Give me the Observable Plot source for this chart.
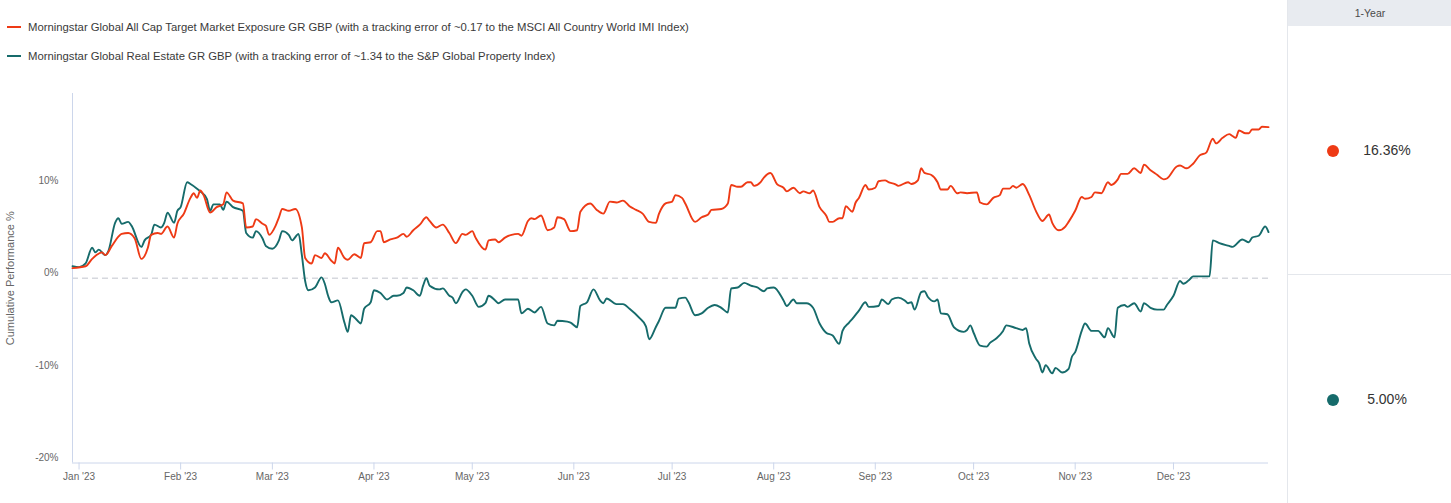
<!DOCTYPE html>
<html><head><meta charset="utf-8">
<script src="https://cdn.jsdelivr.net/npm/d3@7"></script>
<script src="https://cdn.jsdelivr.net/npm/@observablehq/plot@0.6"></script>
<style>
body{margin:0;background:#fff;font-family:Arial,"Liberation Sans",sans-serif;}
#wrap{position:relative;width:1451px;height:503px;overflow:hidden;background:#fff;}
#chart{position:absolute;left:0;top:0;}
.legend{position:absolute;left:7px;height:14px;font-size:11.3px;color:#3a3a3a;display:flex;align-items:center;white-space:nowrap;}
.legend .sw{width:14px;height:2px;margin-right:7px;}
#panel{position:absolute;left:1287px;top:0;width:164px;height:503px;border-left:1px solid #e4e7ec;}
#panel .head{height:26px;background:#e8ebf0;color:#4a4a4a;font-size:10.5px;display:flex;align-items:center;justify-content:center;}
#panel .row{position:absolute;left:0;width:164px;}
#panel .dot{position:absolute;width:12px;height:12px;border-radius:50%;left:39px;}
#panel .val{position:absolute;left:60px;width:78px;text-align:center;font-size:14px;color:#333;}
#panel .sep{position:absolute;left:0;top:274px;width:164px;height:1px;background:#e4e7ec;}
</style></head>
<body>
<div id="wrap">
  <div id="chart"></div>
  <div class="legend" style="top:20px"><span class="sw" style="background:#ee3a15"></span><span id="lg1"></span></div>
  <div class="legend" style="top:49px"><span class="sw" style="background:#166b6b"></span><span id="lg2"></span></div>
  <div id="panel">
    <div class="head" id="phead"></div>
    <div class="sep"></div>
    <div class="dot" style="top:145px;background:#ee3a15"></div>
    <div class="val" id="v1" style="top:142px"></div>
    <div class="dot" style="top:394px;background:#166b6b"></div>
    <div class="val" id="v2" style="top:391px"></div>
  </div>
</div>
<script>
const seriesNames = [
  "Morningstar Global All Cap Target Market Exposure GR GBP (with a tracking error of ~0.17 to the MSCI All Country World IMI Index)",
  "Morningstar Global Real Estate GR GBP (with a tracking error of ~1.34 to the S&P Global Property Index)"
];
const seriesColors = ["#ee3a15", "#166b6b"];
const periodLabel = "1-Year";
const periodReturns = ["16.36%", "5.00%"];
const yTicks = [-20, -10, 0, 10];
const yTitle = "Cumulative Performance %";

const redDates = ["2022-12-30","2023-01-03","2023-01-05","2023-01-08","2023-01-09","2023-01-11","2023-01-13","2023-01-14","2023-01-16","2023-01-18","2023-01-20","2023-01-22","2023-01-23","2023-01-25","2023-01-26","2023-01-28","2023-01-30","2023-01-31",
"2023-02-02","2023-02-04","2023-02-05","2023-02-06","2023-02-07","2023-02-08","2023-02-10","2023-02-12","2023-02-14","2023-02-15","2023-02-17","2023-02-20","2023-02-21","2023-02-23","2023-02-24","2023-02-26","2023-02-27","2023-02-28",
"2023-03-02","2023-03-03","2023-03-04","2023-03-06","2023-03-08","2023-03-10","2023-03-11","2023-03-13","2023-03-14","2023-03-16","2023-03-17","2023-03-19","2023-03-20","2023-03-21","2023-03-23","2023-03-24","2023-03-26","2023-03-28","2023-03-29","2023-03-31",
"2023-04-02","2023-04-03","2023-04-04","2023-04-06","2023-04-08","2023-04-10","2023-04-11","2023-04-13","2023-04-15","2023-04-17","2023-04-18","2023-04-20","2023-04-22","2023-04-24","2023-04-26","2023-04-28","2023-04-29",
"2023-05-01","2023-05-02","2023-05-05","2023-05-06","2023-05-08","2023-05-09","2023-05-11","2023-05-13","2023-05-15","2023-05-16","2023-05-18","2023-05-19","2023-05-20","2023-05-22","2023-05-24","2023-05-26","2023-05-27","2023-05-29","2023-05-31",
"2023-06-02","2023-06-03","2023-06-06","2023-06-08","2023-06-10","2023-06-12","2023-06-14","2023-06-16","2023-06-18","2023-06-20","2023-06-22","2023-06-24","2023-06-26","2023-06-27","2023-06-29",
"2023-07-01","2023-07-02","2023-07-04","2023-07-05","2023-07-08","2023-07-10","2023-07-12","2023-07-13","2023-07-16","2023-07-18","2023-07-19","2023-07-21","2023-07-22","2023-07-24","2023-07-25","2023-07-26","2023-07-28","2023-07-29","2023-07-31",
"2023-08-02","2023-08-04","2023-08-05","2023-08-07","2023-08-09","2023-08-10","2023-08-12","2023-08-13","2023-08-15","2023-08-17","2023-08-18","2023-08-19","2023-08-21","2023-08-22","2023-08-23","2023-08-25","2023-08-26","2023-08-27","2023-08-29","2023-08-30",
"2023-09-01","2023-09-02","2023-09-04","2023-09-05","2023-09-07","2023-09-08","2023-09-11","2023-09-12","2023-09-14","2023-09-15","2023-09-16","2023-09-18","2023-09-20","2023-09-21","2023-09-23","2023-09-24","2023-09-26","2023-09-27","2023-09-29",
"2023-10-02","2023-10-03","2023-10-05","2023-10-07","2023-10-09","2023-10-10","2023-10-12","2023-10-13","2023-10-14","2023-10-16","2023-10-18","2023-10-20","2023-10-22","2023-10-24","2023-10-25","2023-10-27","2023-10-29","2023-10-30",
"2023-11-01","2023-11-03","2023-11-04","2023-11-06","2023-11-07","2023-11-09","2023-11-11","2023-11-12","2023-11-14","2023-11-15","2023-11-17","2023-11-19","2023-11-21","2023-11-22","2023-11-24","2023-11-26","2023-11-28","2023-11-29",
"2023-12-02","2023-12-03","2023-12-05","2023-12-07","2023-12-09","2023-12-11","2023-12-13","2023-12-14","2023-12-16","2023-12-18","2023-12-19","2023-12-20","2023-12-21","2023-12-23","2023-12-24","2023-12-25","2023-12-27","2023-12-28","2023-12-30"];
const redValues = [1.1,1.3,2.1,2.8,2.5,3.5,4.5,4.8,4.9,4.3,2.1,3.3,4.7,4.9,4.8,5.6,4.4,5.9,
7.0,8.7,9.2,8.7,9.5,9.0,7.1,7.7,8.0,9.3,8.4,8.1,5.5,5.6,6.4,5.9,5.7,4.7,
5.7,6.6,7.5,7.3,7.5,5.5,2.2,1.6,2.5,2.2,2.7,1.9,1.6,3.3,2.2,2.0,2.6,2.2,3.8,3.9,
5.1,5.1,3.9,4.2,4.4,4.8,4.5,5.2,5.8,6.6,6.2,5.5,5.8,4.9,3.8,4.8,4.7,
5.1,4.4,3.1,4.1,4.2,3.9,4.4,4.7,4.8,4.6,6.2,6.5,6.4,6.8,5.2,5.5,6.6,6.4,5.1,
5.2,7.2,8.1,7.4,7.0,8.3,8.2,8.4,7.8,7.4,7.0,6.1,6.0,7.0,8.1,
8.3,9.0,8.7,8.1,6.1,6.6,6.9,7.4,7.5,8.1,10.1,9.9,9.9,10.4,10.4,10.0,10.4,10.9,11.4,
10.2,9.8,9.4,9.8,9.2,9.4,9.2,9.5,7.7,6.8,6.1,6.1,6.5,6.5,7.8,7.2,8.2,8.7,10.1,9.6,
9.8,10.5,10.6,10.4,10.2,10.0,10.4,10.2,10.6,11.9,11.4,11.2,10.4,9.6,9.6,10.0,9.2,9.3,9.2,
9.3,8.2,8.0,8.7,9.0,9.7,9.7,10.0,9.8,10.2,9.0,7.3,6.2,6.9,6.0,5.2,5.6,6.1,
7.3,8.8,8.6,8.8,9.3,9.2,10.4,10.1,10.7,11.3,11.3,11.9,11.4,12.3,11.7,11.2,10.7,10.8,
12.1,12.2,11.9,12.4,13.3,13.6,15.1,14.6,15.2,15.6,15.4,15.2,16.0,15.7,15.7,16.1,16.1,16.4,16.36];

const tealDates = ["2022-12-30","2023-01-01","2023-01-03","2023-01-05","2023-01-06","2023-01-07","2023-01-09","2023-01-10","2023-01-12","2023-01-13","2023-01-14","2023-01-16","2023-01-17","2023-01-20","2023-01-21","2023-01-23","2023-01-24","2023-01-26","2023-01-27","2023-01-28","2023-01-30","2023-01-31",
"2023-02-01","2023-02-03","2023-02-04","2023-02-06","2023-02-07","2023-02-09","2023-02-10","2023-02-11","2023-02-13","2023-02-14","2023-02-15","2023-02-17","2023-02-20","2023-02-21","2023-02-23","2023-02-24","2023-02-26","2023-02-27",
"2023-03-01","2023-03-03","2023-03-04","2023-03-06","2023-03-07","2023-03-09","2023-03-10","2023-03-11","2023-03-12","2023-03-14","2023-03-16","2023-03-17","2023-03-18","2023-03-19","2023-03-21","2023-03-23","2023-03-24","2023-03-25","2023-03-27","2023-03-28","2023-03-29","2023-03-31",
"2023-04-01","2023-04-03","2023-04-05","2023-04-07","2023-04-08","2023-04-10","2023-04-11","2023-04-13","2023-04-15","2023-04-16","2023-04-17","2023-04-18","2023-04-21","2023-04-22","2023-04-24","2023-04-25","2023-04-26","2023-04-28","2023-04-29",
"2023-05-01","2023-05-03","2023-05-05","2023-05-06","2023-05-08","2023-05-09","2023-05-11","2023-05-13","2023-05-15","2023-05-16","2023-05-18","2023-05-20","2023-05-22","2023-05-24","2023-05-26","2023-05-27","2023-05-30","2023-05-31",
"2023-06-02","2023-06-03","2023-06-05","2023-06-07","2023-06-09","2023-06-10","2023-06-11","2023-06-14","2023-06-16","2023-06-18","2023-06-21","2023-06-23","2023-06-24","2023-06-26","2023-06-27","2023-06-29",
"2023-07-02","2023-07-03","2023-07-05","2023-07-06","2023-07-08","2023-07-10","2023-07-12","2023-07-14","2023-07-16","2023-07-18","2023-07-19","2023-07-21","2023-07-23","2023-07-25","2023-07-27","2023-07-29","2023-07-30",
"2023-08-01","2023-08-04","2023-08-05","2023-08-07","2023-08-08","2023-08-11","2023-08-13","2023-08-15","2023-08-17","2023-08-19","2023-08-21","2023-08-22","2023-08-24","2023-08-25","2023-08-27","2023-08-29","2023-08-30",
"2023-09-02","2023-09-03","2023-09-05","2023-09-06","2023-09-08","2023-09-10","2023-09-11","2023-09-12","2023-09-13","2023-09-15","2023-09-16","2023-09-17","2023-09-19","2023-09-20","2023-09-21","2023-09-23","2023-09-25","2023-09-28","2023-09-29","2023-09-30",
"2023-10-01","2023-10-03","2023-10-05","2023-10-06","2023-10-08","2023-10-10","2023-10-11","2023-10-14","2023-10-16","2023-10-17","2023-10-18","2023-10-20","2023-10-21","2023-10-22","2023-10-23","2023-10-25","2023-10-26","2023-10-28","2023-10-30","2023-10-31",
"2023-11-01","2023-11-03","2023-11-04","2023-11-06","2023-11-08","2023-11-10","2023-11-11","2023-11-13","2023-11-14","2023-11-16","2023-11-17","2023-11-19","2023-11-21","2023-11-22","2023-11-24","2023-11-26","2023-11-28","2023-11-29",
"2023-12-01","2023-12-03","2023-12-04","2023-12-06","2023-12-07","2023-12-10","2023-12-12","2023-12-13","2023-12-15","2023-12-18","2023-12-19","2023-12-22","2023-12-24","2023-12-25","2023-12-27","2023-12-29","2023-12-30"];
const tealValues = [1.3,1.2,1.6,3.3,2.8,3.1,2.5,3.0,6.0,6.5,5.9,6.1,5.7,3.4,4.1,4.7,5.8,5.5,6.0,7.1,6.0,7.3,
7.7,10.4,10.2,9.7,9.4,8.6,7.3,8.0,8.0,7.4,8.3,7.7,7.3,4.9,4.4,5.1,4.3,3.5,
3.2,4.1,5.1,4.7,4.1,4.8,2.5,-0.3,-1.3,-1.0,0.1,-0.6,-1.9,-2.6,-2.4,-4.8,-5.8,-4.0,-4.6,-4.9,-3.3,-2.6,
-1.3,-1.6,-2.3,-1.9,-1.9,-1.6,-1.0,-1.3,-1.9,-0.8,0.0,-0.8,-1.2,-1.1,-1.9,-2.1,-2.7,-1.5,-1.2,
-1.9,-3.1,-2.7,-1.9,-2.4,-2.7,-2.3,-2.3,-2.3,-3.8,-3.3,-3.7,-3.1,-4.9,-5.1,-4.6,-4.7,-4.8,
-5.3,-3.0,-2.6,-1.2,-2.4,-2.7,-2.2,-2.8,-2.8,-3.3,-4.3,-5.2,-6.6,-5.3,-4.6,-3.2,
-3.2,-2.2,-2.1,-2.6,-4.0,-3.8,-3.2,-2.9,-3.2,-3.7,-1.1,-1.0,-0.5,-0.8,-1.0,-1.4,-1.1,
-1.0,-2.4,-3.0,-2.3,-2.7,-2.7,-3.2,-4.9,-5.9,-6.2,-7.1,-5.7,-4.8,-4.4,-3.5,-2.6,-3.1,
-3.0,-2.3,-2.8,-2.3,-2.1,-2.4,-2.7,-2.6,-3.4,-1.5,-1.4,-2.0,-2.5,-2.3,-3.8,-3.9,-5.3,-5.8,-5.6,-5.1,
-5.9,-7.3,-7.4,-7.0,-6.5,-5.7,-5.1,-5.4,-5.6,-5.4,-7.1,-8.7,-9.2,-10.2,-9.4,-10.3,-9.7,-10.2,-9.8,-8.5,
-8.0,-5.7,-4.9,-5.7,-5.7,-6.4,-5.4,-6.4,-3.2,-2.9,-3.1,-2.7,-3.6,-2.7,-3.2,-3.4,-3.4,-2.9,
-1.9,-0.3,-0.6,-0.1,0.2,0.2,0.2,4.1,3.8,3.5,3.4,4.2,3.9,4.4,4.6,5.6,5.0];

const xStart = new Date("2022-12-30");
const xEnd = new Date("2023-12-30");
const monthTicks = d3.utcMonths(new Date("2023-01-01"), new Date("2023-12-02"));

const red = redDates.map((d, i) => ({date: new Date(d), value: redValues[i]}));
const teal = tealDates.map((d, i) => ({date: new Date(d), value: tealValues[i]}));

document.getElementById("lg1").textContent = seriesNames[0];
document.getElementById("lg2").textContent = seriesNames[1];
document.getElementById("phead").textContent = periodLabel;
document.getElementById("v1").textContent = periodReturns[0];
document.getElementById("v2").textContent = periodReturns[1];

const fmt = d3.utcFormat("%b '%y");
const chart = Plot.plot({
  width: 1287,
  height: 503,
  marginTop: 93,
  marginBottom: 40.5,
  marginLeft: 72,
  marginRight: 19,
  style: {fontFamily: "Arial, 'Liberation Sans', sans-serif", fontSize: "10px", background: "transparent", color: "#666"},
  x: {type: "utc", domain: [xStart, xEnd]},
  y: {domain: [-20, 20]},
  marks: [
    Plot.ruleY([0], {stroke: "#d6d8de", strokeWidth: 1.4, strokeDasharray: "6,4"}),
    Plot.ruleX([xStart], {y1: -20, y2: 20, stroke: "#ccd6eb"}),
    Plot.ruleY([-20], {stroke: "#ccd6eb"}),
    Plot.axisY({ticks: yTicks, tickSize: 0, tickPadding: 14, tickFormat: d => d + "%", label: null, dy: -5, fill: "#666"}),
    Plot.axisX({ticks: monthTicks, tickSize: 7, tickPadding: 3, stroke: "#ccd6eb", tickFormat: fmt, label: null, fill: "#666"}),
    Plot.text([yTitle], {frameAnchor: "left", rotate: -90, dx: -62, fontSize: 11, fill: "#666", textAnchor: "middle"}),
    Plot.line(teal, {x: "date", y: "value", stroke: seriesColors[1], strokeWidth: 1.9, curve: "monotone-x"}),
    Plot.line(red, {x: "date", y: "value", stroke: seriesColors[0], strokeWidth: 1.9, curve: "monotone-x"})
  ]
});
document.getElementById("chart").appendChild(chart);
</script>
</body></html>
